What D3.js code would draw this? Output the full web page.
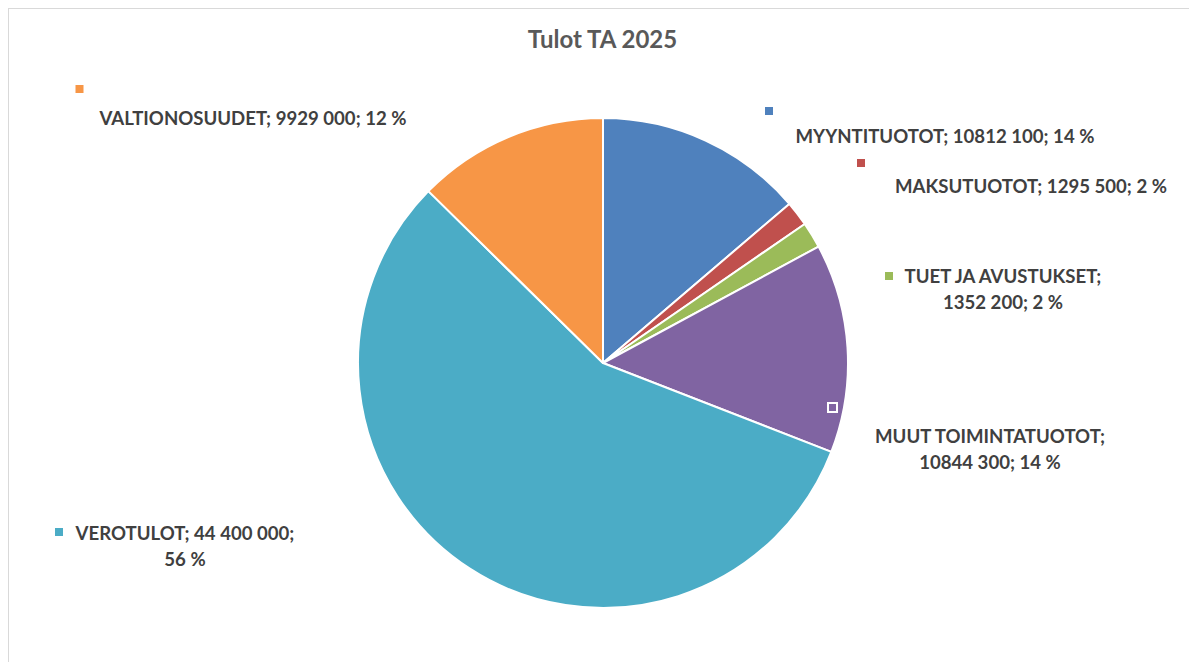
<!DOCTYPE html>
<html>
<head>
<meta charset="utf-8">
<script src="https://d3js.org/d3.v7.min.js"></script>
<style>
  body { margin: 0; background: white; }
  text { font-family: Lato, "Open Sans", sans-serif; font-weight: 700; }
  .title { font-size: 24px; fill: #595959; }
  .lbl { font-size: 18.6px; fill: #404040; }
</style>
</head>
<body>
<div id="chart"></div>
<script>
// data (order = clockwise from 12 o'clock)
var categories = ["MYYNTITUOTOT", "MAKSUTUOTOT", "TUET JA AVUSTUKSET", "MUUT TOIMINTATUOTOT", "VEROTULOT", "VALTIONOSUUDET"];
var values = [10812100, 1295500, 1352200, 10844300, 44400000, 9929000];
var valueText = ["10812 100", "1295 500", "1352 200", "10844 300", "44 400 000", "9929 000"];
var percentText = ["14 %", "2 %", "2 %", "14 %", "56 %", "12 %"];
var colors = ["#4F81BD", "#C0504D", "#9BBB59", "#8064A2", "#4BACC6", "#F79646"];

// label placement (Excel had them dragged around by hand)
// cx = text centre, y = first baseline, brk = where line 2 starts, mk = legend key position
var labelLayout = [
  { cx: 945, y: 143, brk: null, mk: [769, 111] },
  { cx: 1031, y: 193, brk: null, mk: [861, 163] },
  { cx: 1003, y: 283, brk: 1, mk: [889, 276] },
  { cx: 990, y: 443, brk: 1, mk: [832.5, 407.5], inside: true },
  { cx: 185, y: 540, brk: 2, mk: [59, 532] },
  { cx: 253, y: 125, brk: null, mk: [79.5, 89] }
];

var W = 1189, H = 662;
var svg = d3.select("#chart").append("svg")
  .attr("width", W).attr("height", H);

// chart area border
svg.append("rect")
  .attr("x", 8.5).attr("y", 8.5)
  .attr("width", W + 10).attr("height", H + 10)
  .attr("fill", "white")
  .attr("stroke", "#d9d9d9").attr("stroke-width", 1);

svg.append("text")
  .attr("class", "title")
  .attr("x", 602.5).attr("y", 48)
  .attr("text-anchor", "middle")
  .text("Tulot TA 2025");

var cx = 603, cy = 363, r = 245;

var data = categories.map(function (c, i) {
  return { name: c, value: values[i], vt: valueText[i], pt: percentText[i], color: colors[i], lay: labelLayout[i] };
});

var pie = d3.pie().sort(null).value(function (d) { return d.value; });
var arc = d3.arc().innerRadius(0).outerRadius(r);

var g = svg.append("g").attr("transform", "translate(" + cx + "," + cy + ")");

g.selectAll("path")
  .data(pie(data))
  .enter().append("path")
  .attr("d", arc)
  .attr("fill", function (d) { return d.data.color; })
  .attr("stroke", "white")
  .attr("stroke-width", 2)
  .attr("stroke-linejoin", "round");

// labels
var labels = svg.selectAll(".lblg")
  .data(data)
  .enter().append("g")
  .attr("class", "lblg");

labels.append("rect")
  .attr("x", function (d) { return d.lay.mk[0] - (d.lay.inside ? 4.5 : 4); })
  .attr("y", function (d) { return d.lay.mk[1] - (d.lay.inside ? 4.5 : 4); })
  .attr("width", function (d) { return d.lay.inside ? 9 : 8; })
  .attr("height", function (d) { return d.lay.inside ? 9 : 8; })
  .attr("fill", function (d) { return d.color; })
  .attr("stroke", function (d) { return d.lay.inside ? "white" : "none"; })
  .attr("stroke-width", 2);

labels.each(function (d) {
  var full = d.name + "; " + d.vt + "; " + d.pt;
  var lines;
  if (d.lay.brk === null) {
    lines = [full];
  } else {
    var parts = full.split("; ");
    lines = [parts.slice(0, d.lay.brk).join("; ") + ";", parts.slice(d.lay.brk).join("; ")];
  }
  var t = d3.select(this).append("text")
    .attr("class", "lbl")
    .attr("text-anchor", "middle");
  lines.forEach(function (l, i) {
    t.append("tspan")
      .attr("x", d.lay.cx)
      .attr("y", d.lay.y + i * 25.5)
      .text(l);
  });
});
</script>
</body>
</html>
